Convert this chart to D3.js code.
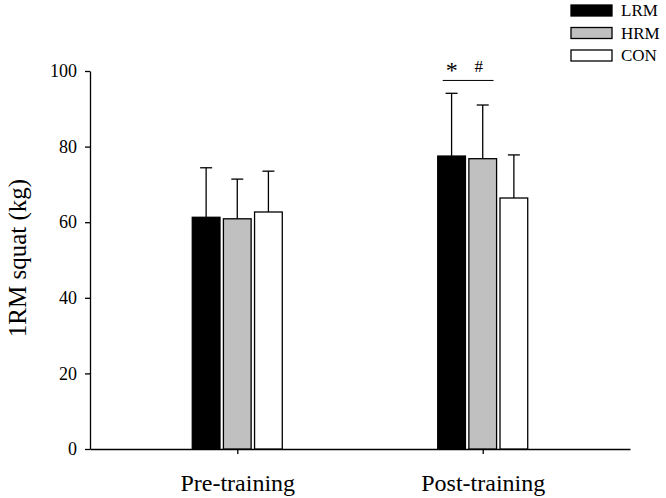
<!DOCTYPE html>
<html><head><meta charset="utf-8">
<script src="https://cdn.jsdelivr.net/npm/d3@7"></script>
<style>body{margin:0;background:#fff}svg{display:block}</style>
</head><body>
<svg id="c" width="666" height="498"></svg>
<script>
const categories = ["Pre-training", "Post-training"];
const groups = ["LRM", "HRM", "CON"];
const groupColors = ["#000000", "#c0c0c0", "#ffffff"];
const meanLRM = [61.3, 77.5];
const meanHRM = [60.9, 76.8];
const meanCON = [62.7, 66.4];
const sdLRM = [13.1, 16.6];
const sdHRM = [10.5, 14.2];
const sdCON = [10.8, 11.4];
const yTicks = [0, 20, 40, 60, 80, 100];
const sigMarks = ["*", "#"];

const means = [meanLRM, meanHRM, meanCON];
const sds = [sdLRM, sdHRM, sdCON];
const font = "'Liberation Serif', serif";
const svg = d3.select("#c");

const y = d3.scaleLinear().domain([0, 100]).range([449, 71]);
const x = d3.scalePoint().domain(categories).range([90, 630]).padding(0.6);
const inner = d3.scaleBand().domain(groups).range([-45, 45]).paddingInner(0.11);

// axes
const yAxis = svg.append("g").attr("transform", "translate(90,0)")
  .call(d3.axisLeft(y).tickValues(yTicks).tickSize(5).tickSizeOuter(0).tickPadding(8));
yAxis.select(".domain").attr("stroke", "#000").attr("stroke-width", 1.3);
yAxis.selectAll(".tick line").attr("stroke", "#000").attr("stroke-width", 1.3);
yAxis.selectAll("text").attr("font-family", font).attr("font-size", 18).attr("fill", "#000");

const xAxis = svg.append("g").attr("transform", "translate(0,449)")
  .call(d3.axisBottom(x).tickSize(5).tickSizeOuter(0).tickPadding(20));
xAxis.select(".domain").attr("stroke", "#000").attr("stroke-width", 1.3);
xAxis.selectAll(".tick line").attr("stroke", "#000").attr("stroke-width", 1.3);
xAxis.selectAll("text").attr("font-family", font).attr("font-size", 24).attr("fill", "#000");

// bars
const rows = [];
categories.forEach((c, ci) => groups.forEach((g, gi) => rows.push({c, g, gi, m: means[gi][ci], s: sds[gi][ci]})));

const bars = svg.append("g");
rows.forEach(d => {
  const bx = x(d.c) + inner(d.g);
  const bw = inner.bandwidth();
  const cx = bx + bw / 2;
  bars.append("line").attr("x1", cx).attr("x2", cx).attr("y1", y(d.m)).attr("y2", y(d.m + d.s))
    .attr("stroke", "#000").attr("stroke-width", 1.3);
  bars.append("line").attr("x1", cx - 6).attr("x2", cx + 6).attr("y1", y(d.m + d.s)).attr("y2", y(d.m + d.s))
    .attr("stroke", "#000").attr("stroke-width", 1.3);
  bars.append("rect").attr("x", bx).attr("y", y(d.m)).attr("width", bw).attr("height", y(0) - y(d.m))
    .attr("fill", groupColors[d.gi]).attr("stroke", "#000").attr("stroke-width", 1.3);
});

// significance markers
const post = categories[1];
const sx1 = x(post) + inner("LRM") + 5;
const sx2 = x(post) + inner("HRM") + inner.bandwidth() - 3;
const sy = y(97.5);
svg.append("line").attr("x1", sx1).attr("x2", sx2).attr("y1", sy).attr("y2", sy).attr("stroke", "#000").attr("stroke-width", 1);
svg.append("text").attr("x", x(post) + inner("LRM") + 14).attr("y", sy - 2).attr("text-anchor", "middle")
  .attr("font-family", font).attr("font-size", 24).text(sigMarks[0]);
svg.append("text").attr("x", x(post) + inner("HRM") + 10).attr("y", sy - 8).attr("text-anchor", "middle")
  .attr("font-family", font).attr("font-size", 17).text(sigMarks[1]);

// y title
svg.append("text").attr("transform", "translate(26,258) rotate(-90)").attr("text-anchor", "middle")
  .attr("font-family", font).attr("font-size", 25).attr("fill", "#000").text("1RM squat (kg)");

// legend
const leg = svg.append("g");
groups.forEach((g, i) => {
  const ly = 5 + i * 22.5;
  leg.append("rect").attr("x", 571).attr("y", ly).attr("width", 41).attr("height", 11)
    .attr("fill", groupColors[i]).attr("stroke", "#000").attr("stroke-width", 1.3);
  leg.append("text").attr("x", 621).attr("y", ly + 11).attr("font-family", font).attr("font-size", 17)
    .attr("fill", "#000").text(g);
});
</script>
</body></html>
